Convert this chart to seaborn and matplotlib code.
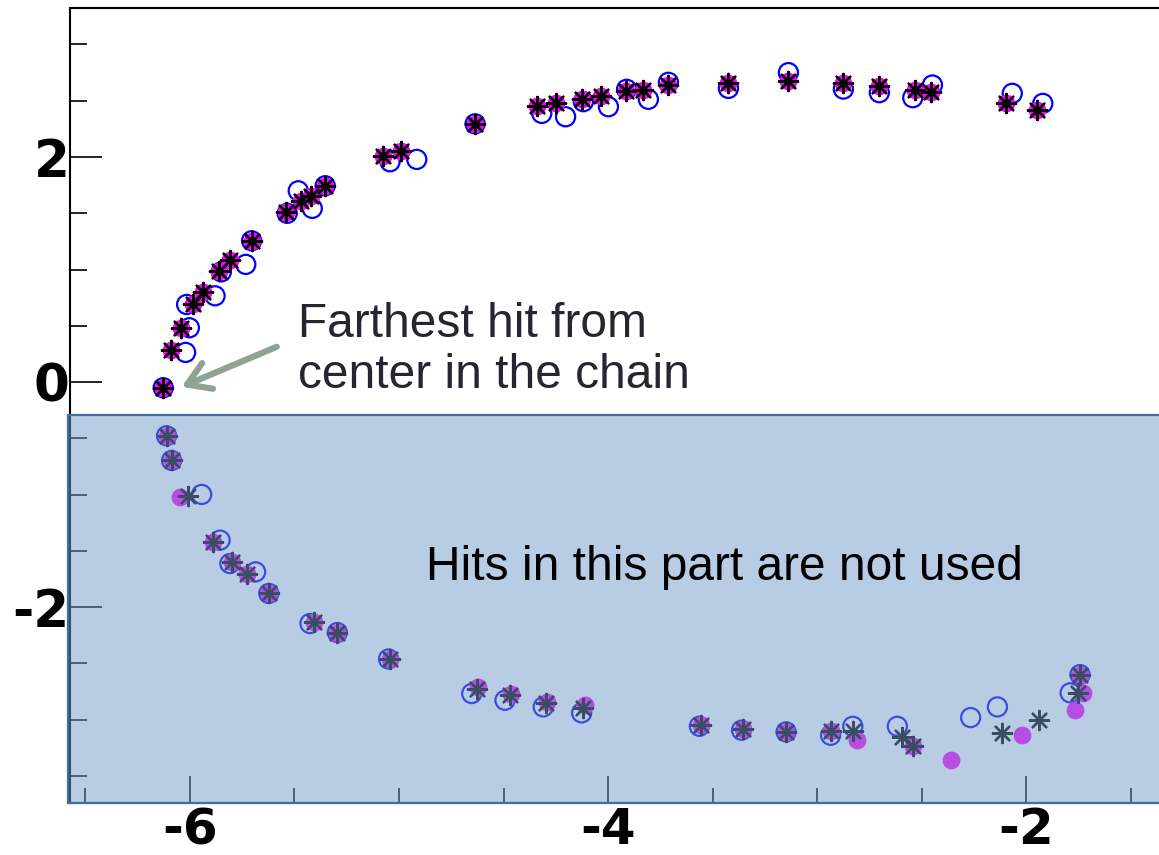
import matplotlib
matplotlib.use("Agg")
import matplotlib.pyplot as plt
from matplotlib.patches import Rectangle
from matplotlib.ticker import MultipleLocator, FormatStrFormatter
import seaborn as sns

# Hit positions of the three reconstructions
blue_x = [-6.128, -6.021, -6.003, -6.016, -5.880, -5.850, -5.733, -5.705, -5.535, -5.482,
          -5.415, -5.353, -5.043, -4.915, -4.636, -4.317, -4.203, -4.118, -3.998, -3.911,
          -3.807, -3.711, -3.424, -3.137, -2.874, -2.702, -2.542, -2.448, -2.066, -1.920,
          -6.112, -6.088, -5.944, -5.856, -5.809, -5.686, -5.623, -5.426, -5.295, -5.050,
          -4.652, -4.493, -4.310, -4.126, -3.563, -3.361, -3.148, -2.935, -2.829, -2.616,
          -2.265, -2.137, -1.789, -1.742]
blue_y = [-0.050, 0.264, 0.483, 0.690, 0.767, 0.980, 1.046, 1.256, 1.500, 1.700,
          1.544, 1.745, 1.958, 1.979, 2.295, 2.388, 2.358, 2.492, 2.447, 2.602,
          2.513, 2.664, 2.610, 2.750, 2.604, 2.572, 2.527, 2.640, 2.566, 2.477,
          -0.477, -0.696, -0.998, -1.404, -1.612, -1.686, -1.878, -2.145, -2.225, -2.460,
          -2.767, -2.827, -2.886, -2.939, -3.058, -3.093, -3.108, -3.138, -3.058, -3.058,
          -2.981, -2.886, -2.761, -2.599]

magenta_x = [-6.128, -6.091, -6.043, -5.987, -5.939, -5.861, -5.809, -5.705, -5.541, -5.469,
             -5.422, -5.353, -5.075, -4.990, -4.636, -4.341, -4.249, -4.126, -4.033, -3.914,
             -3.834, -3.711, -3.424, -3.137, -2.874, -2.702, -2.531, -2.455, -2.096, -1.949,
             -6.112, -6.088, -6.048, -5.888, -5.797, -5.729, -5.623, -5.405, -5.295, -5.043,
             -4.620, -4.465, -4.294, -4.110, -3.557, -3.353, -3.148, -2.935, -2.807, -2.539,
             -2.360, -2.021, -1.766, -1.726, -1.742]
magenta_y = [-0.050, 0.284, 0.483, 0.690, 0.800, 0.987, 1.084, 1.256, 1.508, 1.606,
             1.656, 1.745, 2.012, 2.056, 2.295, 2.453, 2.477, 2.516, 2.545, 2.587,
             2.596, 2.640, 2.655, 2.676, 2.655, 2.631, 2.596, 2.581, 2.477, 2.418,
             -0.477, -0.696, -1.025, -1.419, -1.597, -1.704, -1.878, -2.130, -2.225, -2.456,
             -2.710, -2.770, -2.840, -2.871, -3.043, -3.079, -3.108, -3.102, -3.182, -3.236,
             -3.360, -3.138, -2.916, -2.761, -2.599]

star_x = [-6.128, -6.091, -6.043, -5.987, -5.939, -5.861, -5.809, -5.705, -5.541, -5.469,
          -5.422, -5.353, -5.075, -4.990, -4.636, -4.341, -4.249, -4.126, -4.033, -3.914,
          -3.834, -3.711, -3.424, -3.137, -2.874, -2.702, -2.531, -2.455, -2.096, -1.949,
          -6.112, -6.088, -6.011, -5.888, -5.797, -5.729, -5.623, -5.405, -5.295, -5.043,
          -4.628, -4.469, -4.297, -4.118, -3.557, -3.353, -3.148, -2.935, -2.829, -2.595,
          -2.539, -2.116, -1.936, -1.750, -1.742]
star_y = [-0.050, 0.284, 0.483, 0.690, 0.800, 0.987, 1.084, 1.256, 1.508, 1.606,
          1.656, 1.745, 2.012, 2.056, 2.295, 2.453, 2.477, 2.516, 2.545, 2.587,
          2.596, 2.640, 2.655, 2.676, 2.655, 2.631, 2.596, 2.581, 2.477, 2.418,
          -0.477, -0.696, -1.010, -1.419, -1.597, -1.704, -1.878, -2.130, -2.225, -2.456,
          -2.723, -2.782, -2.851, -2.900, -3.043, -3.079, -3.108, -3.102, -3.102, -3.153,
          -3.236, -3.117, -2.998, -2.761, -2.599]

x_range = (-6.574, -1.364)
y_range = (-3.74, 3.324)
unused_below = -0.293   # hits under this y are excluded

sns.set_style("white")
plt.rcParams["font.family"] = ["Liberation Sans", "DejaVu Sans"]
plt.rcParams["axes.unicode_minus"] = False

fig = plt.figure(figsize=(11.59, 8.55), dpi=100)
ax = fig.add_axes([0.0604, 0.0608, 0.9396, 0.9298])

sns.scatterplot(x=blue_x, y=blue_y, ax=ax, marker="o", s=190, color="#0000ff",
                facecolors="none", edgecolor="#0000ff", linewidth=1.6, zorder=3)
sns.scatterplot(x=magenta_x, y=magenta_y, ax=ax, marker="o", s=165, color="#ff00ff",
                edgecolor="#ff00ff", linewidth=0, zorder=4)
sns.scatterplot(x=star_x, y=star_y, ax=ax, marker=(8, 2, 0), s=190, color="black",
                linewidth=1.7, zorder=5)

ax.set_xlim(*x_range)
ax.set_ylim(*y_range)
ax.set_xlabel("")
ax.set_ylabel("")

ax.xaxis.set_major_locator(MultipleLocator(2))
ax.xaxis.set_minor_locator(MultipleLocator(0.5))
ax.yaxis.set_major_locator(MultipleLocator(2))
ax.yaxis.set_minor_locator(MultipleLocator(0.5))
ax.xaxis.set_major_formatter(FormatStrFormatter("%d"))
ax.yaxis.set_major_formatter(FormatStrFormatter("%d"))

ax.tick_params(axis="x", which="both", bottom=True, top=False, direction="in",
               width=1.2, color="black", labelcolor="black")
ax.tick_params(axis="x", which="major", length=19.5, pad=2.5, labelsize=36)
ax.tick_params(axis="x", which="minor", length=11)
ax.tick_params(axis="y", which="both", left=True, right=False, direction="in",
               width=1.2, color="black", labelcolor="black")
ax.tick_params(axis="y", which="major", length=23, pad=0.5, labelsize=37)
ax.tick_params(axis="y", which="minor", length=12)
for lab in ax.get_xticklabels() + ax.get_yticklabels():
    lab.set_fontweight("bold")
    lab.set_fontfamily("DejaVu Sans")

for side in ("left", "top", "bottom"):
    ax.spines[side].set_color("black")
    ax.spines[side].set_linewidth(1.5)
ax.spines["right"].set_visible(False)

# Translucent band over the part of the track that is not used
band = Rectangle((x_range[0] - 0.01, y_range[0]), x_range[1] - x_range[0] + 0.5,
                 unused_below - y_range[0],
                 facecolor=(115 / 255, 155 / 255, 203 / 255, 0.5),
                 edgecolor="#3f6fa3", linewidth=1.6, clip_on=False, zorder=10)
ax.add_patch(band)

ax.annotate("", xy=(-6.040, -0.042), xytext=(-5.585, 0.314),
            arrowprops=dict(arrowstyle="->, head_length=0.8, head_width=0.5",
                            color="#8fa394", lw=4.5, mutation_scale=20,
                            shrinkA=0, shrinkB=0),
            zorder=6)

fig.text(298 / 1159, 1 - 337 / 855, "Farthest hit from", fontsize=34.5,
         color="#262630", va="baseline", ha="left")
fig.text(298 / 1159, 1 - 388 / 855, "center in the chain", fontsize=34.5,
         color="#262630", va="baseline", ha="left")
fig.text(426 / 1159, 1 - 580 / 855, "Hits in this part are not used", fontsize=34.5,
         color="black", va="baseline", ha="left", zorder=20)

fig.savefig("out.png", dpi=100)
